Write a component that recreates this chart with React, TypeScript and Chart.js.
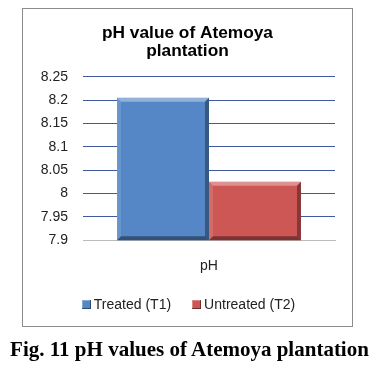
import React, { useEffect, useRef } from "react";
import { Chart, registerables } from "chart.js";

Chart.register(...registerables);

const categories = ["pH"];
const treatedValues = [8.205];
const untreatedValues = [8.025];
const seriesNames = ["Treated (T1)", "Untreated (T2)"];
const seriesColors = ["#5587C7", "#CD5755"];
const titleLines = ["pH value of Atemoya", "plantation"];
const caption = "Fig. 11 pH values of Atemoya plantation";

const bevelPlugin = {
  id: "bevel",
  afterDatasetsDraw(chart: any) {
    const ctx = chart.ctx;
    const area = chart.chartArea;
    const b = 4;
    chart.data.datasets.forEach((_: any, di: number) => {
      const meta = chart.getDatasetMeta(di);
      meta.data.forEach((el: any) => {
        const l = el.x - el.width / 2;
        const r = el.x + el.width / 2;
        const t = Math.max(Math.min(el.y, el.base), area.top);
        const bot = Math.min(Math.max(el.y, el.base), area.bottom);
        const poly = (pts: number[][], fill: string) => {
          ctx.beginPath();
          ctx.moveTo(pts[0][0], pts[0][1]);
          for (let i = 1; i < pts.length; i++) ctx.lineTo(pts[i][0], pts[i][1]);
          ctx.closePath();
          ctx.fillStyle = fill;
          ctx.fill();
        };
        ctx.save();
        poly([[l, t], [r, t], [r - b, t + b], [l + b, t + b]], "rgba(255,255,255,0.35)");
        poly([[l, t], [l + b, t + b], [l + b, bot - b], [l, bot]], "rgba(255,255,255,0.12)");
        poly([[r, t], [r, bot], [r - b, bot - b], [r - b, t + b]], "rgba(0,0,0,0.35)");
        poly([[l, bot], [r, bot], [r - b, bot - b], [l + b, bot - b]], "rgba(0,0,0,0.4)");
        ctx.restore();
      });
    });
  },
};

export default function App() {
  const canvasRef = useRef<HTMLCanvasElement | null>(null);

  useEffect(() => {
    if (!canvasRef.current) return;
    const chart = new Chart(canvasRef.current, {
      type: "bar",
      data: {
        labels: categories,
        datasets: [
          {
            label: seriesNames[0],
            data: treatedValues,
            backgroundColor: seriesColors[0],
            borderWidth: 0,
          },
          {
            label: seriesNames[1],
            data: untreatedValues,
            backgroundColor: seriesColors[1],
            borderWidth: 0,
          },
        ],
      },
      options: {
        animation: false,
        responsive: false,
        maintainAspectRatio: false,
        layout: { padding: { left: 17, right: 17, top: 0, bottom: 33 } },
        datasets: { bar: { barPercentage: 1, categoryPercentage: 0.73 } },
        plugins: {
          title: {
            display: true,
            text: titleLines,
            color: "#000",
            font: { family: "Liberation Sans, Arial, sans-serif", size: 17.3, weight: "bold", lineHeight: 1.06 },
            padding: { top: 15, bottom: 16 },
          },
          legend: { display: false },
          tooltip: { enabled: false },
        },
        scales: {
          x: {
            grid: { display: false, drawTicks: false },
            border: { display: true, color: "#BBBBBB" },
            ticks: {
              color: "#222",
              font: { family: "Liberation Sans, Arial, sans-serif", size: 14 },
              padding: 18,
            },
          },
          y: {
            min: 7.9,
            max: 8.25,
            afterFit: (scale: any) => {
              scale.width = 43;
            },
            border: { display: false },
            grid: {
              drawTicks: false,
              color: (c: any) => (c.index === 0 ? "#BBBBBB" : "#3F5A9E"),
            },
            ticks: {
              stepSize: 0.05,
              padding: 15,
              color: "#222",
              font: { family: "Liberation Sans, Arial, sans-serif", size: 14 },
              callback: (v: any) => String(Number(Number(v).toFixed(2))),
            },
          },
        },
      },
      plugins: [bevelPlugin],
    });
    return () => chart.destroy();
  }, []);

  return (
    <div style={{ position: "relative", width: 363, height: 353 }}>
      <div
        style={{
          position: "absolute",
          left: 14,
          top: 0,
          width: 331,
          height: 319,
          boxSizing: "border-box",
          border: "1px solid #8C8C8C",
          background: "#fff",
        }}
      >
        <canvas ref={canvasRef} width={329} height={317} style={{ display: "block" }} />
        <div
          style={{
            position: "absolute",
            left: 2,
            right: 0,
            top: 287,
            height: 17,
            display: "flex",
            justifyContent: "center",
            alignItems: "center",
            gap: 21,
            fontFamily: "Liberation Sans, Arial, sans-serif",
            fontSize: 14,
            lineHeight: "17px",
            color: "#222",
          }}
        >
          {seriesNames.map((name, i) => (
            <div key={name} style={{ display: "flex", alignItems: "center", gap: 3 }}>
              <span
                style={{
                  display: "inline-block",
                  width: 9,
                  height: 9,
                  background: seriesColors[i],
                  boxShadow: "inset -1px -1px 0 rgba(0,0,0,0.45), inset 1px 1px 0 rgba(255,255,255,0.3)",
                }}
              />
              <span>{name}</span>
            </div>
          ))}
        </div>
      </div>
      <div
        style={{
          position: "absolute",
          left: 0,
          top: 328,
          width: 363,
          textAlign: "center",
          fontFamily: "Liberation Serif, 'Times New Roman', serif",
          fontWeight: "bold",
          fontSize: 21,
          lineHeight: "26px",
          whiteSpace: "nowrap",
          color: "#000",
        }}
      >
        {caption}
      </div>
    </div>
  );
}
